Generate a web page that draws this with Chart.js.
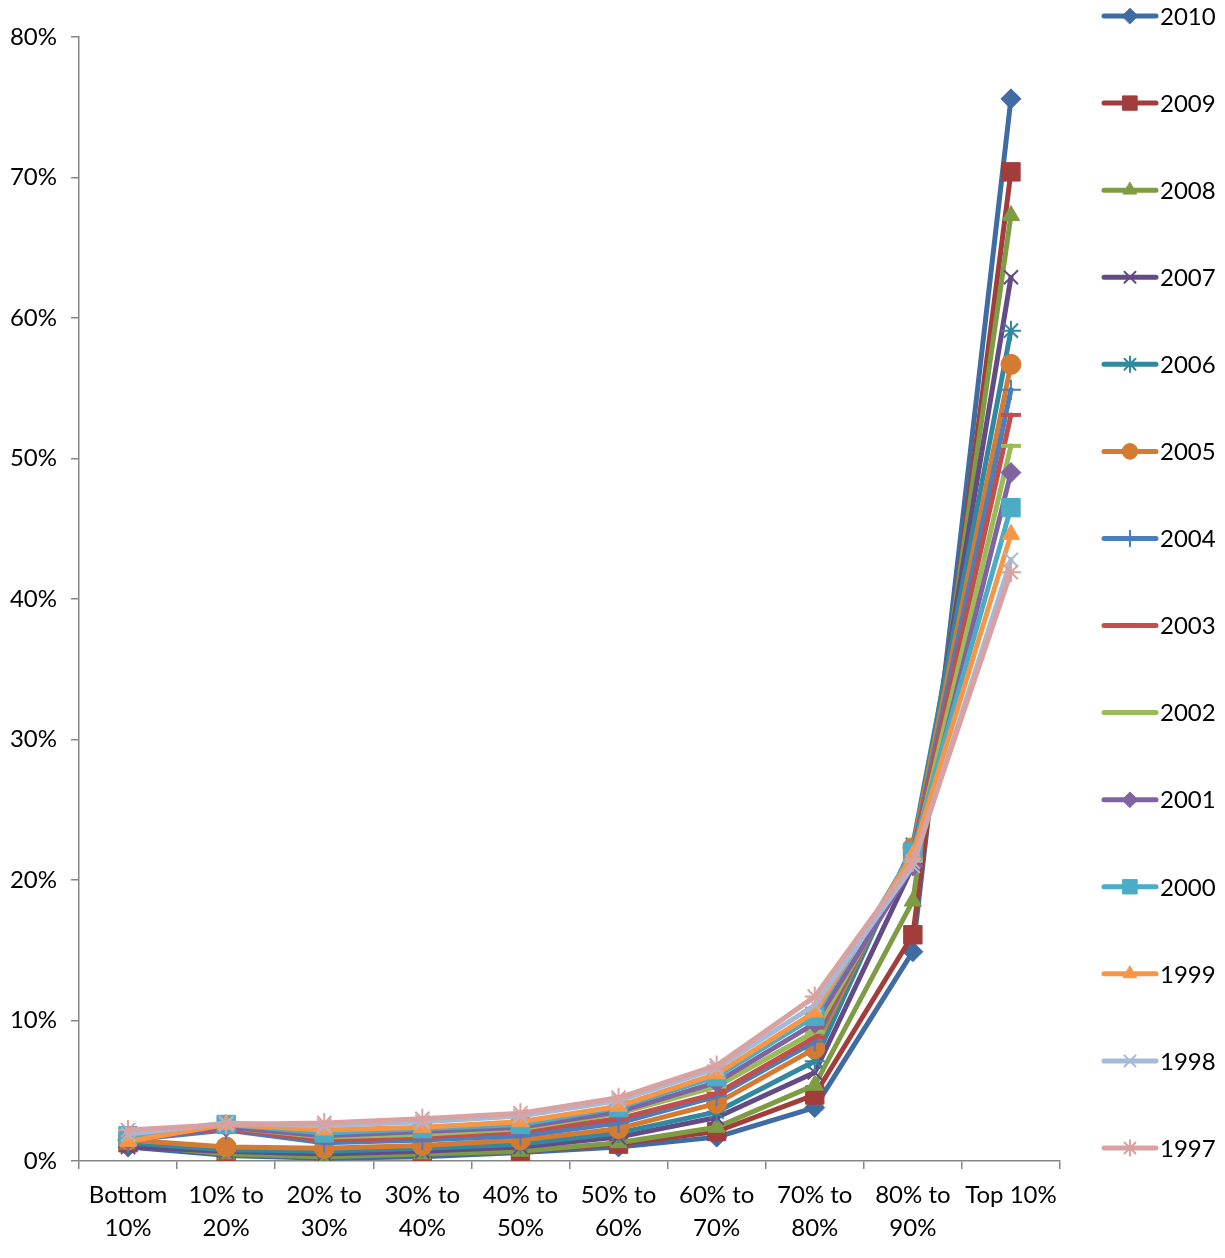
<!DOCTYPE html>
<html>
<head>
<meta charset="utf-8">
<script src="https://cdn.jsdelivr.net/npm/chart.js@4.4.1/dist/chart.umd.min.js"></script>
<style>
html,body{margin:0;padding:0;background:#fff;}
#wrap{width:1225px;height:1258px;position:relative;}
</style>
</head>
<body>
<div id="wrap"><canvas id="c" width="1225" height="1258"></canvas></div>
<script>
const categories = [["Bottom","10%"],["10% to","20%"],["20% to","30%"],["30% to","40%"],["40% to","50%"],["50% to","60%"],["60% to","70%"],["70% to","80%"],["80% to","90%"],["Top 10%"]];
const years = ["2010","2009","2008","2007","2006","2005","2004","2003","2002","2001","2000","1999","1998","1997"];
const v2010 = [1.0, 0.4, 0.2, 0.3, 0.6, 1.0, 1.7, 3.8, 14.9, 75.6];
const v2009 = [1.3, 0.6, 0.4, 0.5, 0.7, 1.2, 2.1, 4.7, 16.1, 70.4];
const v2008 = [1.2, 0.5, 0.3, 0.5, 0.7, 1.3, 2.4, 5.4, 18.5, 67.3];
const v2007 = [1.0, 0.7, 0.5, 0.7, 1.0, 1.7, 3.1, 6.3, 21.0, 62.9];
const v2006 = [1.3, 0.8, 0.7, 0.9, 1.2, 2.0, 3.5, 7.1, 22.5, 59.1];
const v2005 = [1.5, 1.0, 0.9, 1.1, 1.5, 2.3, 4.1, 8.0, 22.3, 56.7];
const v2004 = [1.5, 2.2, 1.3, 1.5, 1.8, 2.7, 4.6, 8.5, 22.0, 54.9];
const v2003 = [1.6, 2.3, 1.5, 1.7, 2.1, 3.0, 4.8, 8.8, 21.8, 53.1];
const v2002 = [1.6, 2.4, 1.7, 1.9, 2.3, 3.4, 5.3, 9.2, 21.5, 50.9];
const v2001 = [1.5, 2.4, 1.8, 2.1, 2.4, 3.5, 5.6, 9.8, 21.0, 49.0];
const v2000 = [1.8, 2.6, 2.0, 2.3, 2.6, 3.8, 6.0, 10.3, 22.0, 46.5];
const v1999 = [1.4, 2.6, 2.2, 2.4, 2.8, 3.9, 6.2, 10.6, 21.8, 44.6];
const v1998 = [1.9, 2.7, 2.5, 2.8, 3.2, 4.3, 6.6, 11.1, 21.0, 42.8];
const v1997 = [2.2, 2.6, 2.7, 3.0, 3.4, 4.5, 6.8, 11.7, 21.3, 41.9];
const yTicks = [0,10,20,30,40,50,60,70,80];

const seriesValues = [v2010,v2009,v2008,v2007,v2006,v2005,v2004,v2003,v2002,v2001,v2000,v1999,v1998,v1997];
const colors = ["#3F6CA3","#A33D3B","#7E9C43","#654B86","#3089A0","#D37B32","#4A7EBD","#C24F4C","#9BBB59","#8064A2","#4BACC6","#F79646","#A6B9D9","#D9A19F"];
const pStyles = ["rectRot","rect","triangle","crossRot","star","circle","cross","line","line","rectRot","rect","triangle","crossRot","star"];
const pRadius = [10,13,10,10,10,10,10,10,10,10,13,10,10,10];
const pBorder = [1,1,1,2,2,1,2,4,4,1,1,1,2,2];

const FONT = "Lato, 'Open Sans', sans-serif";

const datasets = years.map((y,i)=>({
  label: y,
  data: seriesValues[i],
  borderColor: colors[i],
  backgroundColor: colors[i],
  borderWidth: 5,
  tension: 0,
  pointStyle: pStyles[i],
  pointRadius: pRadius[i],
  pointHoverRadius: pRadius[i],
  pointBorderWidth: pBorder[i],
  pointBackgroundColor: colors[i],
  pointBorderColor: colors[i],
  order: years.length - 1 - i,
  borderCapStyle: 'round',
  borderJoinStyle: 'round'
}));

const legendPlugin = {
  id: 'sideLegend',
  afterDraw(chart) {
    const ctx = chart.ctx;
    const ds = chart.data.datasets;
    const y0 = 16, step = (1148 - 16) / (ds.length - 1);
    ctx.save();
    ds.forEach((d, i) => {
      const y = y0 + i * step;
      ctx.strokeStyle = d.borderColor;
      ctx.lineWidth = 5;
      ctx.lineCap = 'round';
      ctx.beginPath();
      ctx.moveTo(1104, y);
      ctx.lineTo(1156, y);
      ctx.stroke();
      ctx.fillStyle = d.pointBackgroundColor;
      ctx.strokeStyle = d.pointBorderColor;
      ctx.lineWidth = d.pointBorderWidth;
      Chart.helpers.drawPoint(ctx, {pointStyle: d.pointStyle, rotation: 0, radius: d.pointRadius * 0.78, borderWidth: d.pointBorderWidth}, 1130, y);
      ctx.fillStyle = '#000';
      ctx.font = "24px " + FONT;
      ctx.textAlign = 'left';
      ctx.textBaseline = 'middle';
      ctx.fillText(d.label, 1160, y + 1);
    });
    ctx.restore();
  }
};

new Chart(document.getElementById('c'), {
  type: 'line',
  data: { labels: categories, datasets },
  plugins: [legendPlugin],
  options: {
    responsive: false,
    animation: false,
    events: [],
    layout: { padding: { top: 37, right: 165, left: 0, bottom: 0 } },
    plugins: { legend: { display: false }, tooltip: { enabled: false } },
    scales: {
      x: {
        offset: true,
        grid: { display: true, drawOnChartArea: false, offset: true, tickLength: 8, color: '#868686', lineWidth: 1.5 },
        border: { display: true, color: '#868686', width: 1.5 },
        ticks: { color: '#000', font: { family: FONT, size: 24, lineHeight: 1.38 }, padding: 10, maxRotation: 0, autoSkip: false },
        afterFit(s) { s.height = 1258 - 1161; }
      },
      y: {
        min: 0, max: 80,
        afterBuildTicks(s) { s.ticks = yTicks.map(v => ({ value: v })); },
        grid: { display: true, drawOnChartArea: false, tickLength: 8, color: '#868686', lineWidth: 1.5 },
        border: { display: true, color: '#868686', width: 1.5 },
        ticks: { color: '#000', font: { family: FONT, size: 24 }, padding: 14, callback: v => v + '%' },
        afterFit(s) { s.width = 79; }
      }
    }
  }
});
</script>
</body>
</html>
